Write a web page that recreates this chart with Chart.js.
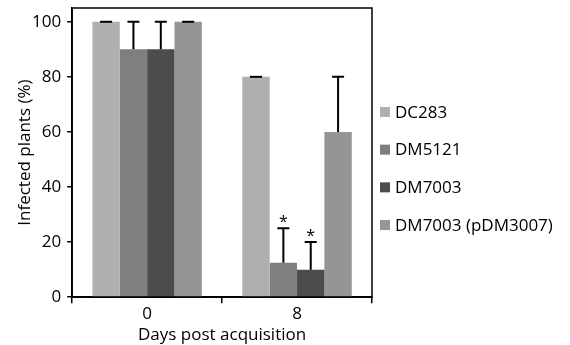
<!DOCTYPE html>
<html>
<head>
<meta charset="utf-8">
<script src="https://cdn.jsdelivr.net/npm/chart.js@4.4.0/dist/chart.umd.min.js"></script>
<style>
html,body{margin:0;padding:0;background:#fff;}
#wrap{width:570px;height:345px;position:relative;}
</style>
</head>
<body>
<div id="wrap"><canvas id="c"></canvas></div>
<script>
const categories = ['0', '8'];
const seriesNames = ['DC283', 'DM5121', 'DM7003', 'DM7003 (pDM3007)'];
const dc283 = [100, 80];
const dm5121 = [90, 12.5];
const dm7003 = [90, 10];
const dm7003p = [100, 60];
const errDc283 = [0, 0];
const errDm5121 = [10, 12.5];
const errDm7003 = [10, 10];
const errDm7003p = [0, 20];
const sigDc283 = [false, false];
const sigDm5121 = [false, true];
const sigDm7003 = [false, true];
const sigDm7003p = [false, false];
const yTicks = [0, 20, 40, 60, 80, 100];
const colors = ['#afafaf', '#7f7f7f', '#4c4c4c', '#959595'];

const FONT = 'Open Sans';
const FS = 17;

const errorBarPlugin = {
  id: 'errorBars',
  afterDatasetsDraw(chart) {
    const ctx = chart.ctx;
    const y = chart.scales.y;
    ctx.save();
    chart.data.datasets.forEach((ds, di) => {
      const meta = chart.getDatasetMeta(di);
      meta.data.forEach((bar, i) => {
        const v = ds.data[i];
        const e = ds.errors[i];
        const x = bar.x;
        const yTop = y.getPixelForValue(v + e);
        const yBase = y.getPixelForValue(v);
        ctx.strokeStyle = '#000';
        ctx.lineWidth = 2;
        ctx.beginPath();
        if (e > 0) {
          ctx.moveTo(x, yBase);
          ctx.lineTo(x, yTop);
        }
        ctx.moveTo(x - 6, yTop);
        ctx.lineTo(x + 6, yTop);
        ctx.stroke();
        if (ds.sig[i]) {
          ctx.fillStyle = '#000';
          ctx.font = '16px ' + FONT;
          ctx.textAlign = 'center';
          ctx.textBaseline = 'alphabetic';
          ctx.fillText('*', x, yTop - 1);
        }
      });
    });
    ctx.restore();
  }
};

const framePlugin = {
  id: 'frame',
  afterDraw(chart) {
    const a = chart.chartArea;
    const ctx = chart.ctx;
    ctx.save();
    ctx.strokeStyle = '#000';
    ctx.lineWidth = 1.5;
    ctx.strokeRect(a.left, a.top, a.right - a.left, a.bottom - a.top);
    ctx.restore();
  }
};

const legendPlugin = {
  id: 'sideLegend',
  afterDraw(chart) {
    const a = chart.chartArea;
    const ctx = chart.ctx;
    const ds = chart.data.datasets;
    const gap = 37.7;
    const cy = chart.height / 2 - 4;
    ctx.save();
    ctx.font = FS + 'px ' + FONT;
    ctx.textBaseline = 'middle';
    ctx.textAlign = 'left';
    ds.forEach((d, i) => {
      const y = cy + (i - (ds.length - 1) / 2) * gap;
      const x = a.right + 8;
      ctx.fillStyle = d.backgroundColor;
      ctx.fillRect(x, y - 5, 10, 10);
      ctx.fillStyle = '#000';
      ctx.fillText(d.label, x + 15, y + 1);
    });
    ctx.restore();
  }
};

const series = [
  {label: seriesNames[0], data: dc283, errors: errDc283, sig: sigDc283},
  {label: seriesNames[1], data: dm5121, errors: errDm5121, sig: sigDm5121},
  {label: seriesNames[2], data: dm7003, errors: errDm7003, sig: sigDm7003},
  {label: seriesNames[3], data: dm7003p, errors: errDm7003p, sig: sigDm7003p}
];

new Chart(document.getElementById('c'), {
  type: 'bar',
  data: {
    labels: categories,
    datasets: series.map((s, i) => Object.assign({}, s, {
      backgroundColor: colors[i],
      borderWidth: 0,
      categoryPercentage: 0.73,
      barPercentage: 1.0
    }))
  },
  options: {
    responsive: true,
    maintainAspectRatio: false,
    animation: false,
    devicePixelRatio: 1,
    layout: {padding: {left: 9, right: 198, top: 8, bottom: 0}},
    plugins: {
      tooltip: {enabled: false},
      legend: {display: false}
    },
    scales: {
      x: {
        offset: true,
        grid: {
          offset: true,
          drawOnChartArea: false,
          drawTicks: true,
          tickLength: 6,
          color: '#000',
          lineWidth: 1.5
        },
        border: {display: true, color: '#000', width: 1.5},
        ticks: {color: '#000', font: {family: FONT, size: FS}, padding: 1},
        title: {display: true, text: 'Days post acquisition', color: '#000', font: {family: FONT, size: FS}, padding: {top: -1, bottom: 0}}
      },
      y: {
        min: 0,
        max: 105,
        afterBuildTicks(scale) { scale.ticks = yTicks.map(v => ({value: v})); },
        afterFit(scale) { scale.paddingTop = 0; },
        grid: {
          drawOnChartArea: false,
          drawTicks: true,
          tickLength: 5,
          color: '#000',
          lineWidth: 1.5
        },
        border: {display: true, color: '#000', width: 1.5},
        ticks: {color: '#000', font: {family: FONT, size: FS}, padding: 6},
        title: {display: true, text: 'Infected plants (%)', color: '#000', font: {family: FONT, size: FS, lineHeight: 1.0}, padding: {top: 8, bottom: -8}}
      }
    }
  },
  plugins: [errorBarPlugin, framePlugin, legendPlugin]
});
</script>
</body>
</html>
